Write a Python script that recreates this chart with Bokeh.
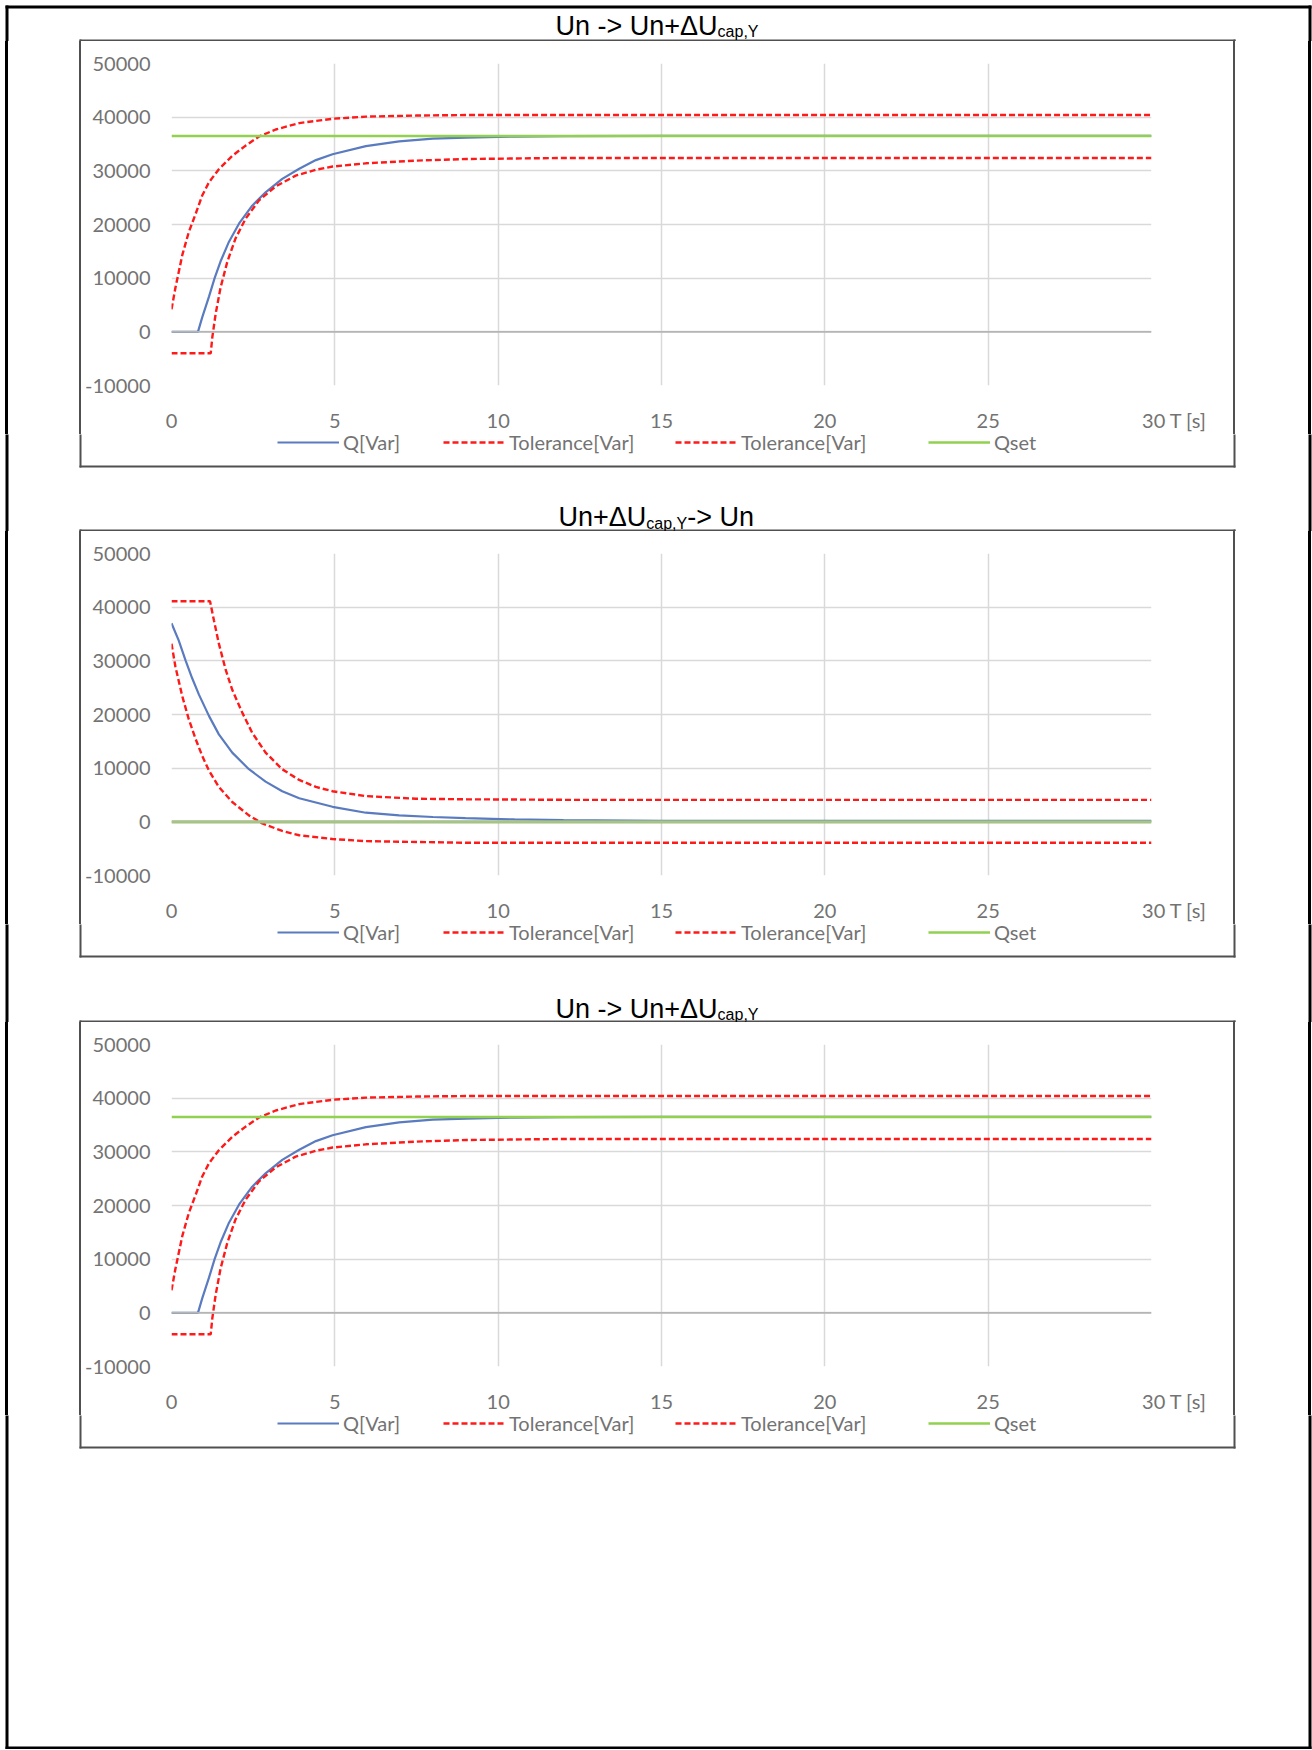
from bokeh.plotting import figure
from bokeh.models import (Range1d, FixedTicker, Label, Legend, LegendItem, Span,
                          NumeralTickFormatter)
from bokeh.layouts import column
from bokeh.embed import file_html
from bokeh.resources import INLINE

# ---------------- data ----------------
x_ticks = [0, 5, 10, 15, 20, 25, 30]
y_ticks = [-10000, 0, 10000, 20000, 30000, 40000, 50000]

# step up: Un -> Un+dU (charts 1 and 3)
t_q_up = [0, 0.81, 0.94, 1.15, 1.32, 1.50, 1.76, 2.07, 2.47, 2.88, 3.39, 3.91, 4.42,
          4.93, 5.95, 6.97, 8.0, 9.02, 10.5, 12, 15, 20, 25, 30]
q_up = [0, 0, 2700, 6600, 10000, 13100, 16800, 20200, 23500, 26000, 28500, 30400, 32000,
        33100, 34600, 35500, 36000, 36200, 36380, 36450, 36500, 36500, 36500, 36500]
t_tol_hi_up = [0, 0.12, 0.33, 0.53, 0.74, 0.94, 1.15, 1.45, 1.86, 2.27, 2.68, 3.19,
               3.91, 4.93, 5.95, 7.5, 9.0, 12, 30]
tol_hi_up = [4200, 8200, 14300, 18600, 22000, 25400, 27900, 30300, 32800, 34700, 36400,
             37700, 38900, 39700, 40100, 40300, 40400, 40400, 40400]
t_tol_lo_up = [0, 1.20, 1.25, 1.35, 1.50, 1.71, 1.96, 2.27, 2.68, 3.19, 3.80, 4.42, 4.93,
               5.95, 7.48, 9.02, 12, 30]
tol_lo_up = [-4000, -4000, -1000, 3300, 8200, 13100, 17400, 21100, 24500, 27100, 29100,
             30200, 30800, 31400, 31900, 32200, 32400, 32400]
t_qset = [0, 30]
qset_up = [36500, 36500]

# step down: Un+dU -> Un (chart 2)
t_q_dn = [0, 0.22, 0.43, 0.63, 0.84, 1.15, 1.45, 1.86, 2.37, 2.88, 3.39, 3.91, 4.93,
          5.95, 6.97, 8.0, 9.0, 10.5, 12, 15, 30]
q_dn = [37000, 33800, 30100, 26800, 23700, 19700, 16300, 12900, 9800, 7500, 5700, 4400,
        2800, 1700, 1200, 900, 700, 450, 300, 200, 200]
t_tol_hi_dn = [0, 1.18, 1.30, 1.45, 1.66, 1.86, 2.17, 2.47, 2.88, 3.39, 3.91, 4.42, 4.93,
               5.95, 7.48, 9.02, 12, 30]
tol_hi_dn = [41100, 41100, 37500, 33200, 28300, 24600, 20300, 16600, 12900, 9800, 7800,
             6500, 5700, 4800, 4300, 4200, 4100, 4100]
t_tol_lo_dn = [0, 0.12, 0.33, 0.53, 0.74, 0.94, 1.15, 1.45, 1.86, 2.37, 2.78, 3.39, 3.91,
               4.93, 5.95, 9.02, 12, 30]
tol_lo_dn = [33200, 28900, 23400, 19100, 15400, 12300, 9500, 6500, 3700, 1200, -300,
             -1700, -2500, -3200, -3600, -3900, -3900, -3900]
qset_dn = [0, 0]

legend_labels = ["Q[Var]", "Tolerance[Var]", "Tolerance[Var]", "Qset"]
axis_title = "T [s]"
title_up = ["Un -> Un+\u0394U", "cap,Y"]
title_dn = ["Un+\u0394U", "cap,Y", "-> Un"]

# ---------------- page geometry (pixels) ----------------
W = 1312
TICK_FONT = "Lato"
FS = "20px"
TICK_COLOR = "#737373"
C_Q = "#5a7bbf"
C_TOL = "#ff1a1a"
C_SET = "#92d050"
BOX = "#505050"
NBSP = "\u00a0"
STYLES = [
    dict(line_color=C_Q, line_width=2.2),
    dict(line_color=C_TOL, line_width=2.4, line_dash="6 3"),
    dict(line_color=C_TOL, line_width=2.4, line_dash="6 3"),
    dict(line_color=C_SET, line_width=2.6),
]

# frame rectangles (page px): outer black border and the three grey chart boxes
BOX_TOPS = [39, 529, 1020]
deco = [(5, 1311, 5, 8, "black"), (5, 1311, 1746, 1749, "black"),
        (5, 8, 5, 1749, "black"), (1308, 1311, 5, 1749, "black")]
for b in BOX_TOPS:
    deco += [(79, 1235, b, b + 2, BOX), (79, 1235, b + 426, b + 428, BOX),
             (79, 81, b, b + 428, BOX), (1233, 1235, b, b + 428, BOX)]

# css background for chart canvases: vertical frame lines
_layers = []
for x0, w, c in [(5, 3, "#000"), (1308, 3, "#000"), (79, 2, BOX), (1233, 2, BOX)]:
    _layers.append(f"linear-gradient({c},{c}) {x0}px 0px / {w}px 100% no-repeat")
CHART_BG = ", ".join(_layers) + ", #ffffff"


def strip(top, h, titles=(), legend_center=None):
    s = figure(width=W, height=h, output_backend="svg", toolbar_location=None, title=None,
               min_border=0, x_axis_type=None, y_axis_type=None, frame_align=False,
               x_range=Range1d(0, W), y_range=Range1d(0, h))
    s.outline_line_color = None
    s.grid.visible = False
    s.background_fill_color = "white"
    s.border_fill_color = "white"
    # decorations converted from page coordinates
    for x0, x1, y0, y1, c in deco:
        if y1 <= top or y0 >= top + h:
            continue
        s.quad(left=[x0], right=[x1], top=[h - (y0 - top)], bottom=[h - (y1 - top)],
               fill_color=c, line_color=None)
    # titles: (parts, x0, baseline page y)
    adv_em = {"Un -> Un+\u0394U": 6.003, "Un+\u0394U": 3.252, "cap,Y": 2.557, "-> Un": 2.473}
    for parts, x0, base in titles:
        x = x0
        for i, txt in enumerate(parts):
            sub = (i == 1)
            size = 16 if sub else 27
            yb = base + (3 if sub else 0)
            s.add_layout(Label(x=x, y=h - (yb - top) + 0.27 * size, text=txt,
                               text_font="Liberation Sans", text_font_size=f"{size}px",
                               text_color="black", text_align="left",
                               text_baseline="alphabetic"))
            x += adv_em[txt] * size
    if legend_center is not None:
        lc = legend_center - top
        for st, lab, vx in zip(STYLES, legend_labels, [277, 443, 675, 928]):
            # legend proxy line, kept outside the visible strip
            r = s.line([-50, -40], [-50, -50], **st)
            lg = Legend(items=[LegendItem(label=lab, renderers=[r])],
                        location=(vx, h - lc - 10), orientation="horizontal",
                        glyph_width=62, glyph_height=20, label_standoff=4,
                        padding=0, margin=0, border_line_color=None,
                        background_fill_alpha=0, label_text_font=TICK_FONT,
                        label_text_font_size=FS, label_text_color=TICK_COLOR,
                        label_text_line_height=1.0, label_height=20)
            s.add_layout(lg)
    return s


def make_chart(series, set_width):
    p = figure(width=W, height=393, output_backend="svg", toolbar_location=None,
               title=None, frame_align=False,
               x_range=Range1d(0, 30), y_range=Range1d(-10000, 50000),
               min_border_left=171, min_border_right=W - 1151, min_border_top=22,
               min_border_bottom=46, styles={"background": CHART_BG})
    p.outline_line_color = None
    p.background_fill_color = "white"
    p.border_fill_alpha = 0

    for ax in (p.xaxis[0], p.yaxis[0]):
        ax.axis_line_color = None
        ax.major_tick_line_color = None
        ax.minor_tick_line_color = None
        ax.major_tick_out = 0
        ax.major_tick_in = 0
        ax.major_label_text_font = TICK_FONT
        ax.major_label_text_font_size = FS
        ax.major_label_text_color = TICK_COLOR
    p.xaxis.ticker = FixedTicker(ticks=x_ticks)
    p.yaxis.ticker = FixedTicker(ticks=y_ticks)
    p.yaxis.formatter = NumeralTickFormatter(format="0")
    p.xaxis.major_label_overrides = {30: NBSP * 9 + "30 " + axis_title}
    p.xaxis.major_label_standoff = 22
    p.yaxis.major_label_standoff = 21

    p.xgrid.grid_line_color = "#d9d9d9"
    p.ygrid.grid_line_color = "#d9d9d9"
    p.xgrid.grid_line_width = 1.5
    p.ygrid.grid_line_width = 1.5
    p.add_layout(Span(location=0, dimension="width", line_color="#b5b5b5", line_width=1.6))

    for (t, v), st in zip(series, STYLES):
        kw = dict(st)
        if kw["line_color"] == C_SET:
            kw["line_width"] = set_width
        p.line(t, v, **kw)
    return p


up = [(t_q_up, q_up), (t_tol_hi_up, tol_hi_up), (t_tol_lo_up, tol_lo_up), (t_qset, qset_up)]
dn = [(t_q_dn, q_dn), (t_tol_hi_dn, tol_hi_dn), (t_tol_lo_dn, tol_lo_dn), (t_qset, qset_dn)]

figs = [
    strip(0, 41, titles=[(title_up, 555, 32.3)]),
    make_chart(up, 2.6),
    strip(434, 97, titles=[(title_dn, 558, 524)], legend_center=444),
    make_chart(dn, 3.4),
    strip(924, 98, titles=[(title_up, 555, 1015.5)], legend_center=934),
    make_chart(up, 2.6),
    strip(1415, 334, legend_center=1425),
]

root = column(*figs, spacing=0)
open("out.html", "w").write(file_html(root, INLINE))
